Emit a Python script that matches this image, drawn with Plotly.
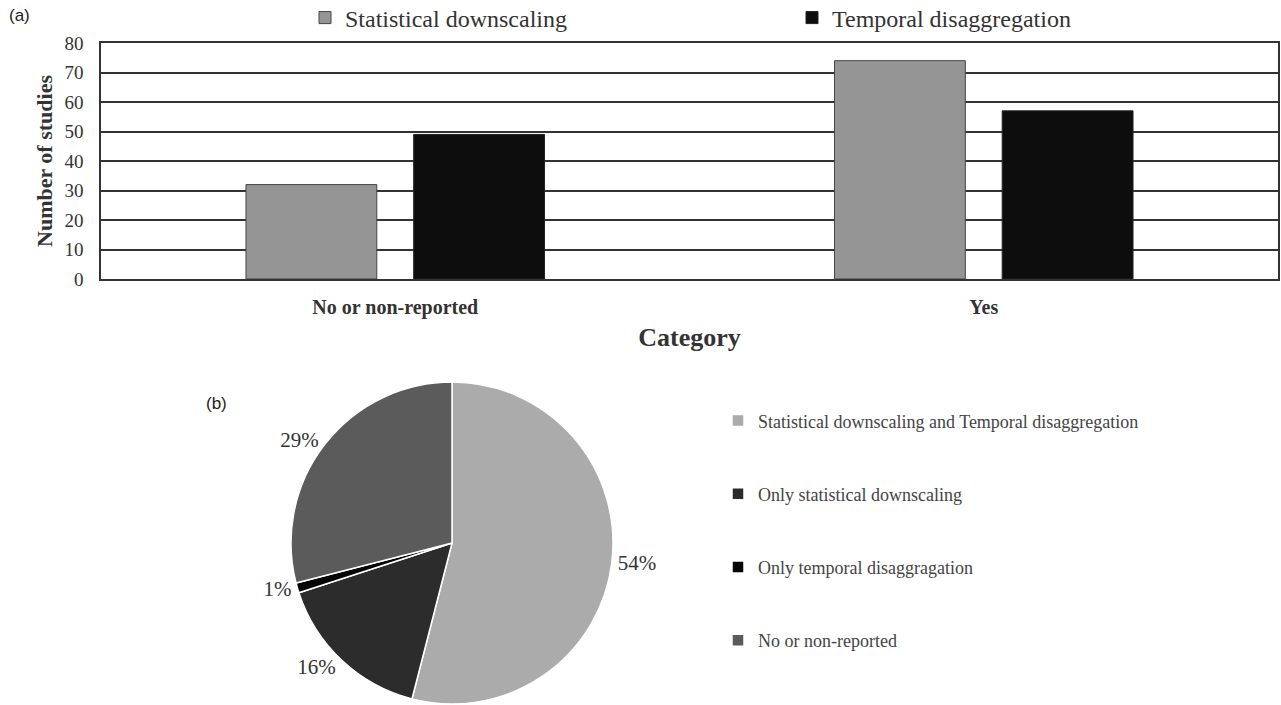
import plotly.graph_objects as go

# ---- data ----
categories = ["No or non-reported", "Yes"]
statistical_downscaling = [32, 74]
temporal_disaggregation = [49, 57]

pie_labels = [
    "Statistical downscaling and Temporal disaggregation",
    "Only statistical downscaling",
    "Only temporal disaggragation",
    "No or non-reported",
]
pie_values = [54, 16, 1, 29]
pie_colors = ["#ababab", "#2c2c2c", "#050505", "#5b5b5b"]

W, H = 1281, 705
SERIF = "Liberation Serif, Times New Roman, serif"
SANS = "Liberation Sans, Arial, sans-serif"


def px_x(x):
    return x / W


def px_y(y):
    return 1 - y / H


fig = go.Figure()

fig.add_trace(go.Bar(
    x=categories, y=statistical_downscaling, name="Statistical downscaling",
    marker=dict(color="#959595", line=dict(color="#444444", width=1)),
    legend="legend",
))
fig.add_trace(go.Bar(
    x=categories, y=temporal_disaggregation, name="Temporal disaggregation",
    marker=dict(color="#0d0d0d", line=dict(color="#222222", width=1)),
    legend="legend3",
))

# blank lines around each label give the roomy vertical legend spacing
fig.add_trace(go.Pie(
    labels=[" <br>" + s + "<br> " for s in pie_labels],
    values=pie_values,
    sort=False,
    direction="clockwise",
    rotation=0,
    marker=dict(colors=pie_colors, line=dict(color="white", width=1.5)),
    textinfo="percent",
    textposition="outside",
    outsidetextfont=dict(family=SERIF, size=21, color="#333333"),
    domain=dict(x=[px_x(290), px_x(614)], y=[px_y(704), px_y(382)]),
    legend="legend2",
    hoverinfo="percent+value",
))

legend_font_top = dict(family=SERIF, size=24, color="#333333")

fig.update_layout(
    width=W, height=H,
    margin=dict(l=0, r=0, t=0, b=0, autoexpand=False),
    paper_bgcolor="white", plot_bgcolor="white",
    barmode="group", bargap=0.43, bargroupgap=0.22,
    showlegend=True,
    legend=dict(
        xref="container", yref="container",
        orientation="h", x=px_x(305), y=px_y(18), xanchor="left", yanchor="middle",
        font=legend_font_top, bgcolor="rgba(0,0,0,0)",
    ),
    legend3=dict(
        xref="container", yref="container",
        orientation="h", x=px_x(792), y=px_y(18), xanchor="left", yanchor="middle",
        font=legend_font_top, bgcolor="rgba(0,0,0,0)",
    ),
    legend2=dict(
        xref="container", yref="container",
        orientation="v", x=px_x(718), y=px_y(379), xanchor="left", yanchor="top",
        font=dict(family=SERIF, size=18, color="#444444"),
        bgcolor="rgba(0,0,0,0)",
    ),
    xaxis=dict(
        domain=[px_x(101), px_x(1278)],
        showline=True, linecolor="#333333", linewidth=1.5, mirror=True,
        ticks="", tickfont=dict(family=SERIF, size=20, color="#333333", weight="bold"),
        ticklabelstandoff=9,
        title=dict(text="<b>Category</b>", font=dict(family=SERIF, size=26, color="#333333"),
                   standoff=10),
        fixedrange=True,
    ),
    yaxis=dict(
        domain=[px_y(279), px_y(43)],
        range=[0, 80], dtick=10,
        showgrid=True, gridcolor="#333333", gridwidth=1.5,
        showline=True, linecolor="#333333", linewidth=1.5, mirror=True,
        zeroline=False,
        ticks="", tickfont=dict(family=SERIF, size=19, color="#333333"),
        ticklabelstandoff=12,
        title=dict(text="<b>Number of studies</b>", font=dict(family=SERIF, size=22, color="#333333"),
                   standoff=6),
        fixedrange=True,
    ),
    annotations=[
        dict(text="(a)", x=px_x(7), y=px_y(15), xref="paper", yref="paper",
             xanchor="left", yanchor="middle", showarrow=False,
             font=dict(family=SANS, size=17, color="#222222")),
        dict(text="(b)", x=px_x(204), y=px_y(403), xref="paper", yref="paper",
             xanchor="left", yanchor="middle", showarrow=False,
             font=dict(family=SANS, size=17, color="#222222")),
    ],
)

fig.write_html("out.html")
